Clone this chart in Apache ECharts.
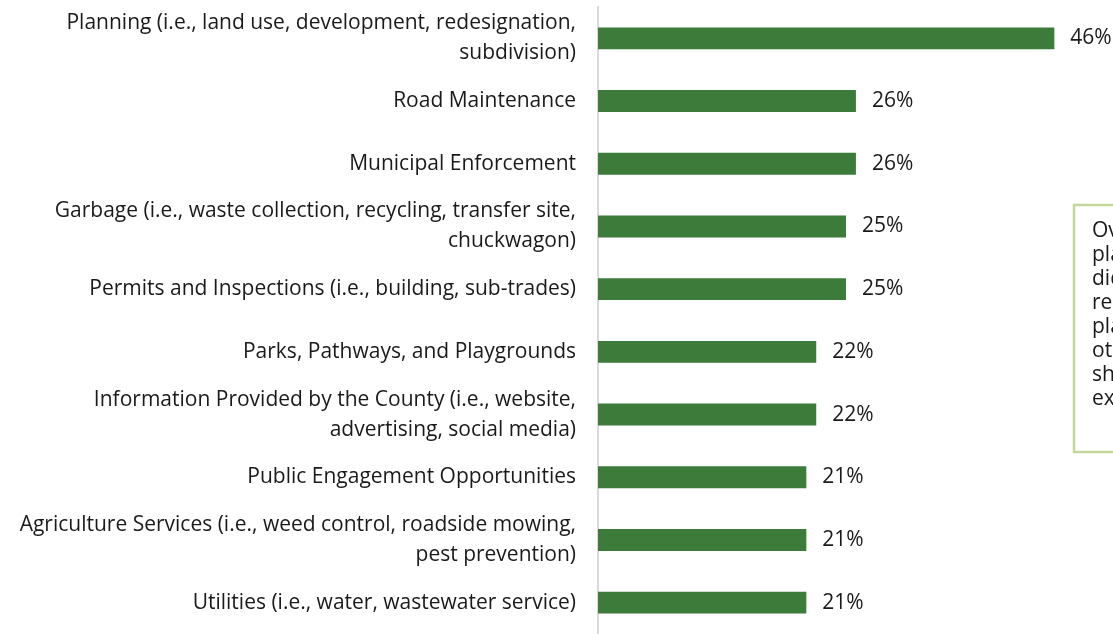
<!DOCTYPE html>
<html>
<head>
<meta charset="utf-8">
<script src="https://cdn.jsdelivr.net/npm/echarts@6/dist/echarts.min.js"></script>
<style>
  html, body { margin: 0; padding: 0; background: #ffffff; }
  #bar-chart { width: 1113px; height: 634px; }
</style>
</head>
<body>
<div id="bar-chart"></div>
<script>
// service areas, top to bottom
const categories = [
  'Planning (i.e., land use, development, redesignation,\nsubdivision)',
  'Road Maintenance',
  'Municipal Enforcement',
  'Garbage (i.e., waste collection, recycling, transfer site,\nchuckwagon)',
  'Permits and Inspections (i.e., building, sub-trades)',
  'Parks, Pathways, and Playgrounds',
  'Information Provided by the County (i.e., website,\nadvertising, social media)',
  'Public Engagement Opportunities',
  'Agriculture Services (i.e., weed control, roadside mowing,\npest prevention)',
  'Utilities (i.e., water, wastewater service)'
]
const percents = [46, 26, 26, 25, 25, 22, 22, 21, 21, 21]
// callout box text (cut off by the right edge)
const noteLines = ['Overall,', 'planning', 'did', 'residents', 'planning', 'other', 'should', 'examined']

const FONT = 'Open Sans'

let chart = echarts.init(document.getElementById('bar-chart'))

const option = {
  animation: false,
  textStyle: { fontFamily: FONT },
  grid: { left: 598, right: 19, top: 7, bottom: -1 },
  xAxis: {
    type: 'value',
    min: 0,
    max: 50,
    show: false
  },
  yAxis: {
    type: 'category',
    inverse: true,
    data: categories,
    axisTick: { show: false },
    axisLine: { lineStyle: { color: '#d9d9d9', width: 2 } },
    axisLabel: {
      margin: 22,
      color: '#1a1a1a',
      fontSize: 21,
      fontFamily: FONT,
      lineHeight: 30,
      align: 'right'
    }
  },
  series: [
    {
      type: 'bar',
      data: percents,
      barWidth: '35%',
      itemStyle: { color: '#3d7b3a' },
      label: {
        show: true,
        position: 'right',
        distance: 16,
        color: '#1a1a1a',
        fontSize: 21,
        fontFamily: FONT,
        formatter: p => p.value + '%'
      }
    }
  ],
  graphic: [
    {
      type: 'rect',
      shape: { x: 1074, y: 205, width: 120, height: 247 },
      style: { fill: '#ffffff', stroke: '#c4d79b', lineWidth: 2.5 },
      z: 10
    },
    {
      type: 'text',
      x: 1092,
      y: 219,
      z: 11,
      style: {
        text: noteLines.join('\n'),
        font: '21px ' + FONT,
        lineHeight: 24,
        fill: '#1a1a1a'
      }
    }
  ]
}

chart.setOption(option)
</script>
</body>
</html>
